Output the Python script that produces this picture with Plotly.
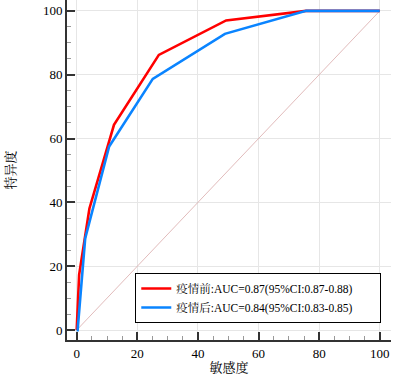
import plotly.graph_objects as go

# Data
before_x = [0, 0.8, 4.2, 12.3, 27.1, 49.3, 75.7, 100]
before_y = [0, 17.3, 38.1, 64.3, 86.2, 97.0, 100, 100]
after_x = [0, 0.3, 2.8, 10.7, 25.1, 48.9, 75.7, 100]
after_y = [0, 0, 28.7, 57.5, 78.7, 92.8, 100, 100]
diag = [0, 100]
before_name = "疫情前:AUC=0.87(95%CI:0.87-0.88)"
after_name = "疫情后:AUC=0.84(95%CI:0.83-0.85)"
x_title = "敏感度"
y_title = "特异度"
tick_vals = [0, 20, 40, 60, 80, 100]

FONT = "Liberation Serif"
CJK_FONT = "Liberation Serif, Noto Serif CJK SC, Noto Sans CJK SC"

fig = go.Figure()
fig.add_trace(go.Scatter(x=diag, y=diag, mode="lines",
                         line=dict(color="#d9a9a9", width=0.8),
                         showlegend=False, hoverinfo="skip"))
fig.add_trace(go.Scatter(x=before_x, y=before_y, mode="lines", name=before_name,
                         line=dict(color="#ff0000", width=2.6)))
fig.add_trace(go.Scatter(x=after_x, y=after_y, mode="lines", name=after_name,
                         line=dict(color="#0a84ff", width=2.6)))

axis_common = dict(
    showline=True, linewidth=2, linecolor="#333333",
    ticks="inside", ticklen=8, tickwidth=2, tickcolor="#333333",
    showgrid=True, gridcolor="#e6e6e6", gridwidth=1,
    zeroline=False, tickmode="array", tickvals=tick_vals,
    tickfont=dict(family=FONT, size=13, color="black"),
    minor=dict(ticks="inside", ticklen=4, tickwidth=1, tickcolor="#999999",
               dtick=5, showgrid=False),
    automargin=False,
)

fig.update_layout(
    width=393, height=375,
    margin=dict(l=67, r=2, t=0, b=35),
    paper_bgcolor="white", plot_bgcolor="white",
    font=dict(family=CJK_FONT, color="black"),
    xaxis=dict(range=[-3.2, 103.7],
               title=dict(text=x_title, font=dict(family=CJK_FONT, size=13), standoff=4),
               **axis_common),
    yaxis=dict(range=[-3.1, 103.4],
               title=dict(text=y_title, font=dict(family=CJK_FONT, size=13), standoff=24),
               **axis_common),
    legend=dict(orientation="h", entrywidth=199, entrywidthmode="pixels",
                x=0.97, y=0.05, xanchor="right", yanchor="bottom",
                bordercolor="black", borderwidth=1, bgcolor="white",
                font=dict(family=CJK_FONT, size=11.5), tracegroupgap=0,
                itemwidth=30),
)

fig.write_html("out.html", config={"displayModeBar": False},
               post_script="document.body.style.margin='0';document.body.style.overflow='hidden';")
